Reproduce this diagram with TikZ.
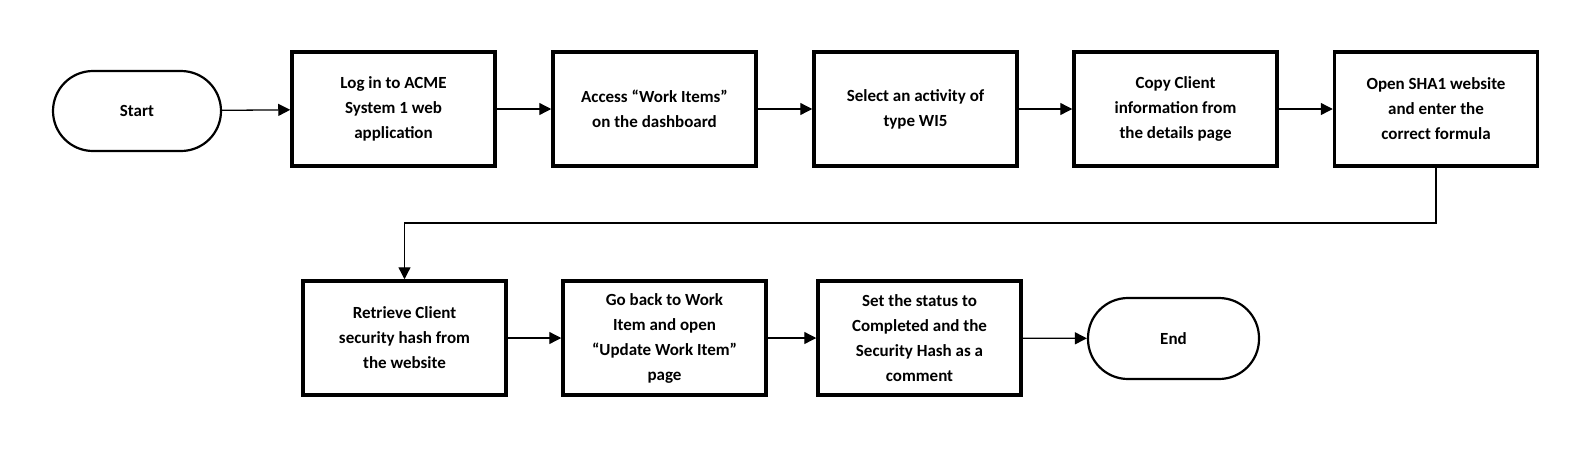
\documentclass[tikz,border=0pt]{standalone}
\usepackage{fontspec}
\setmainfont{Carlito}
\usetikzlibrary{arrows.meta}

\tikzset{
  stepbox/.style={draw, line width=3.5pt, minimum width=203pt, minimum height=114pt,
    inner sep=2pt, align=center, font=\bfseries\fontsize{17}{25}\selectfont},
  terminal/.style={draw, line width=2.2pt, rounded corners=40pt, minimum width=168pt,
    minimum height=80pt, align=center, font=\bfseries\fontsize{17}{25}\selectfont},
  flow/.style={-{Triangle[length=12pt,width=12pt]}, line width=1.3pt}
}

\begin{document}
\begin{tikzpicture}[x=1pt,y=-1pt]
    \useasboundingbox (0,0) rectangle (1594,469);
    % Primeira linha
    \node[terminal] (start) at (137,111) {Start};
    \node[stepbox] (login) at (393.5,109) {Log in to ACME\\System 1 web\\application};
    \node[stepbox] (access) at (654.5,109) {Access ``Work Items''\\on the dashboard};
    \node[stepbox] (select) at (915.5,109) {Select an activity of\\type WI5};
    \node[stepbox] (copy) at (1175.5,109) {Copy Client\\information from\\the details page};
    \node[stepbox] (open) at (1436,109) {Open SHA1 website\\and enter the\\correct formula};
    % Segunda linha
    \node[stepbox] (retrieve) at (404.5,338) {Retrieve Client\\security hash from\\the website};
    \node[stepbox] (goback) at (664.5,338) {Go back to Work\\Item and open\\``Update Work Item''\\page};
    \node[stepbox] (status) at (919.5,338) {Set the status to\\Completed and the\\Security Hash as a\\comment};
    \node[terminal, minimum width=171pt, minimum height=81pt] (end) at (1173.5,338.5) {End};
    % Setas
    \foreach \a/\b in {start/login, login/access, access/select, select/copy, copy/open,
                       retrieve/goback, goback/status, status/end}
        \draw[flow] (\a) -- (\b);
    \coordinate (turn) at (1436,223);
    \draw[flow] (open.south) -- (turn) -| (retrieve.north);
\end{tikzpicture}
\end{document}
